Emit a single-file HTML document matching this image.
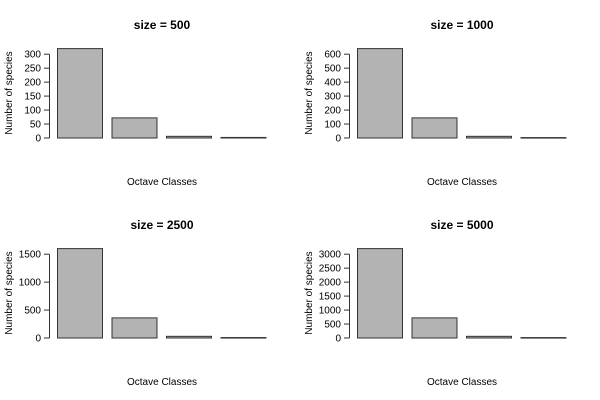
<!DOCTYPE html>
<html><head><meta charset="utf-8"><style>
html,body{margin:0;padding:0;background:#fff;}
svg{display:block;font-family:"Liberation Sans",Arial,sans-serif;}
</style></head><body>
<svg id="c" width="600" height="400"></svg>
<script>
const titles = ["size = 500","size = 1000","size = 2500","size = 5000"];
const values500 = [320, 72, 6, 2];
const values1000 = [640, 144, 12, 3];
const values2500 = [1600, 360, 30, 8];
const values5000 = [3200, 720, 60, 15];
const ticks500 = [0,50,100,150,200,250,300];
const ticks1000 = [0,100,200,300,400,500,600];
const ticks2500 = [0,500,1000,1500];
const ticks5000 = [0,500,1000,1500,2000,2500,3000];
const series = [values500, values1000, values2500, values5000];
const tickSets = [ticks500, ticks1000, ticks2500, ticks5000];
const NS = "http://www.w3.org/2000/svg";
const svg = document.getElementById('c');
function mk(tag, attrs, parent){const e=document.createElementNS(NS,tag);for(const k in attrs)e.setAttribute(k,attrs[k]);parent.appendChild(e);return e;}
for(let p=0;p<4;p++){
  const ox=(p%2)*300, oy=Math.floor(p/2)*200;
  const g=mk('g',{transform:`translate(${ox},${oy})`},svg);
  
  
  const vals=series[p], ticks=tickSets[p];
  const maxV=Math.max(...vals);
  const y0=138, yTop=48.6;
  const y=v=>y0-(v/maxV)*(y0-yTop);
  const t=mk('text',{x:162,y:29,'text-anchor':'middle','font-size':12,'font-weight':'bold',fill:'#000'},g);
  t.textContent=titles[p];
  
  
  const bx=57.5, bw=45, step=54.5;
  vals.forEach((v,i)=>{
    const r=mk('rect',{x:bx+i*step,y:y(v),width:bw,height:Math.max(y0-y(v),0.5),fill:'#b3b3b3',stroke:'#333','stroke-width':1},g);
    
    
  });
  const ax=mk('line',{x1:49.5,x2:49.5,y1:y(ticks[0]),y2:y(ticks[ticks.length-1]),stroke:'#333'},g);
  
  
  ticks.forEach(tv=>{
    mk('line',{x1:44,x2:49.5,y1:y(tv),y2:y(tv),stroke:'#333'},g);
    const tl=mk('text',{x:41,y:y(tv)+3.5,'text-anchor':'end','font-size':10,fill:'#000'},g);
    tl.textContent=tv;
    
    
  });
  const yl=mk('text',{x:0,y:0,transform:'translate(12,93) rotate(-90)','text-anchor':'middle','font-size':10,fill:'#000'},g);
  yl.textContent='Number of species';
  
  
  const xl=mk('text',{x:162,y:185,'text-anchor':'middle','font-size':10,fill:'#000'},g);
  xl.textContent='Octave Classes';
  
  
}
</script>
</body></html>
